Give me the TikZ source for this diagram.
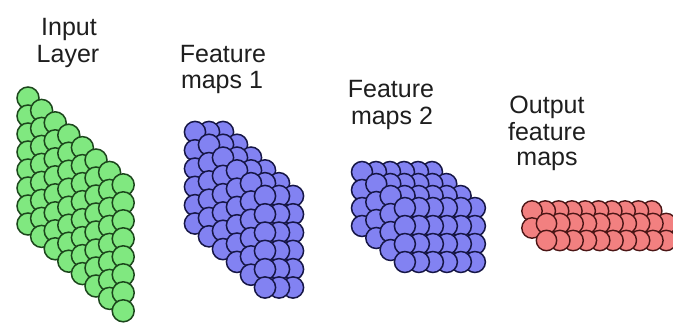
\documentclass[tikz,border=0pt]{standalone}
\usepackage{fontspec}
\setmainfont{Liberation Sans}
\definecolor{gfill}{RGB}{128,232,128}
\definecolor{gline}{RGB}{28,70,28}
\definecolor{bfill}{RGB}{130,130,242}
\definecolor{bline}{RGB}{22,22,70}
\definecolor{rfill}{RGB}{242,128,128}
\definecolor{rline}{RGB}{75,22,22}
\definecolor{txt}{RGB}{30,30,30}
\begin{document}
\begin{tikzpicture}[x=1pt,y=-1pt,
  lbl/.style={font=\fontsize{25}{27}\selectfont, text=txt, inner sep=0pt, anchor=base},
  gball/.style={fill=gfill, draw=gline, line width=1.5pt},
  bball/.style={fill=bfill, draw=bline, line width=1.5pt},
  rball/.style={fill=rfill, draw=rline, line width=1.4pt}]
\useasboundingbox (0,0) rectangle (673,324);
\fill[white] (0,0) rectangle (673,324);
% Input layer: 8 diagonal x 8 vertical
\foreach \d in {0,...,7}{
  \foreach \v in {0,...,7}{
    \draw[gball] ({28+13.6*\d},{98+12.4*\d+18*\v}) circle[radius=11pt];
  }
}
% Feature maps 1: 6 diagonal x 3 horizontal x 6 vertical
\foreach \d in {0,...,5}{
  \foreach \h in {2,1,0}{
    \foreach \v in {0,...,5}{
      \draw[bball] ({195+14*\d+14*\h},{132+12.8*\d+18.3*\v}) circle[radius=10.6pt];
    }
  }
}
% Feature maps 2: 4 diagonal x 6 horizontal x 4 vertical
\foreach \d in {0,...,3}{
  \foreach \h in {5,4,...,0}{
    \foreach \v in {0,...,3}{
      \draw[bball] ({362+14.3*\d+14*\h},{172+12*\d+18*\v}) circle[radius=10.5pt];
    }
  }
}
% Output feature maps: 2 diagonal x 10 horizontal x 2 vertical
\foreach \d in {0,1}{
  \foreach \h in {9,8,...,0}{
    \foreach \v in {0,1}{
      \draw[rball] ({532+14.5*\d+13.3*\h},{211+12.5*\d+17*\v}) circle[radius=10.2pt];
    }
  }
}
% Labels
\node[lbl] (inA) at (69,35) {Input};
\node[lbl] (inB) at (68,63) {Layer};
\node[lbl] (fmA) at (223,62) {Feature};
\node[lbl] (fmB) at (222,88) {maps 1};
\node[lbl] (fnA) at (391,97) {Feature};
\node[lbl] (fnB) at (392,124) {maps 2};
\node[lbl] (ouA) at (547,113) {Output};
\node[lbl] (ouB) at (547,140) {feature};
\node[lbl] (ouC) at (547,165) {maps};
\end{tikzpicture}
\end{document}
